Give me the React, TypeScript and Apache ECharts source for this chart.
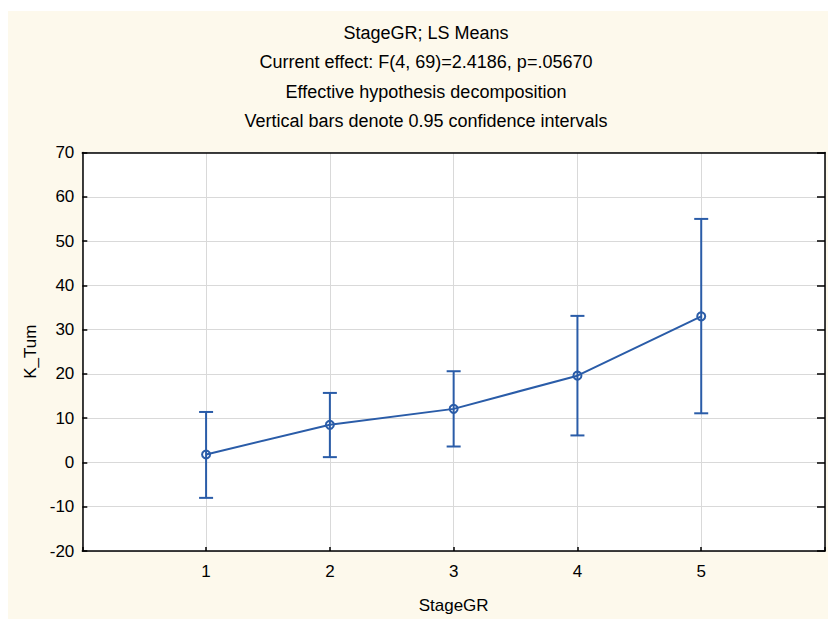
import React, { useEffect, useRef } from 'react';
import * as echarts from 'echarts';

const stages = [1, 2, 3, 4, 5];
const means = [1.8, 8.5, 12.1, 19.6, 33.0];
const lower = [-8.0, 1.2, 3.6, 6.1, 11.1];
const upper = [11.4, 15.7, 20.6, 33.1, 55.0];
const titleLines = [
  'StageGR; LS Means',
  'Current effect: F(4, 69)=2.4186, p=.05670',
  'Effective hypothesis decomposition',
  'Vertical bars denote 0.95 confidence intervals',
];
const yMin = -20;
const yMax = 70;
const yStep = 10;
const xMin = 0;
const xMax = 6;

const BLUE = '#2a5ca8';
const FONT = '"Liberation Sans", Arial, sans-serif';

export default function App() {
  const ref = useRef<HTMLDivElement>(null);
  useEffect(() => {
    if (!ref.current) return;
    const chart = echarts.init(ref.current, null, { renderer: 'svg' });
    const errData = stages.map((s, i) => [s, lower[i], upper[i]]);
    const lineData = stages.map((s, i) => [s, means[i]]);
    const titleY = [21.5, 51, 80.5, 110];
    chart.setOption({
      animation: false,
      textStyle: { fontFamily: FONT },
      graphic: titleLines.map((t, i) => ({
        type: 'text',
        x: 418,
        y: titleY[i],
        style: {
          text: t,
          fill: '#000',
          font: `18px ${FONT}`,
          textAlign: 'center',
          textVerticalAlign: 'middle',
        },
      })),
      grid: {
        left: 74.3,
        top: 141.5,
        right: -1,
        bottom: 66,
        show: true,
        backgroundColor: '#ffffff',
        borderWidth: 0,
      },
      xAxis: [
        {
          type: 'value',
          min: xMin,
          max: xMax,
          interval: 1,
          name: 'StageGR',
          nameLocation: 'middle',
          nameGap: 46,
          nameTextStyle: { color: '#000', fontSize: 17, fontFamily: FONT },
          axisLine: { show: true, onZero: false, lineStyle: { color: '#000', width: 1.5 } },
          axisTick: { show: true, inside: true, length: 4, lineStyle: { color: '#000', width: 1.5 } },
          axisLabel: {
            color: '#000',
            fontSize: 17,
            margin: 12,
            fontFamily: FONT,
            formatter: (v: number) => (v > xMin && v < xMax ? String(v) : ''),
          },
          splitLine: { show: true, lineStyle: { color: '#d9d9d9', width: 1 } },
        },
        {
          type: 'value',
          position: 'top',
          min: xMin,
          max: xMax,
          interval: 1,
          axisLine: { show: true, onZero: false, lineStyle: { color: '#000', width: 1.5 } },
          axisTick: { show: false },
          axisLabel: { show: false },
          splitLine: { show: false },
        },
      ],
      yAxis: [
        {
          type: 'value',
          min: yMin,
          max: yMax,
          interval: yStep,
          name: 'K_Tum',
          nameLocation: 'middle',
          nameGap: 43,
          nameTextStyle: { color: '#000', fontSize: 17, fontFamily: FONT },
          axisLine: { show: true, onZero: false, lineStyle: { color: '#000', width: 1.5 } },
          axisTick: { show: true, inside: true, length: 5, lineStyle: { color: '#000', width: 1.5 } },
          axisLabel: { color: '#000', fontSize: 17, margin: 8, fontFamily: FONT },
          splitLine: { show: true, lineStyle: { color: '#d9d9d9', width: 1 } },
        },
        {
          type: 'value',
          position: 'right',
          min: yMin,
          max: yMax,
          interval: yStep,
          axisLine: { show: true, onZero: false, lineStyle: { color: '#000', width: 1.5 } },
          axisTick: { show: true, inside: true, length: 8, lineStyle: { color: '#000', width: 1.5 } },
          axisLabel: { show: false },
          splitLine: { show: false },
        },
      ],
      series: [
        {
          type: 'custom',
          xAxisIndex: 0,
          yAxisIndex: 0,
          data: errData,
          z: 3,
          renderItem: (params: any, api: any) => {
            const x = api.value(0);
            const lo = api.coord([x, api.value(1)]);
            const hi = api.coord([x, api.value(2)]);
            const half = 7;
            const style = { stroke: BLUE, lineWidth: 2 };
            return {
              type: 'group',
              children: [
                { type: 'line', shape: { x1: lo[0], y1: lo[1], x2: hi[0], y2: hi[1] }, style },
                { type: 'line', shape: { x1: hi[0] - half, y1: hi[1], x2: hi[0] + half, y2: hi[1] }, style },
                { type: 'line', shape: { x1: lo[0] - half, y1: lo[1], x2: lo[0] + half, y2: lo[1] }, style },
              ],
            };
          },
        },
        {
          type: 'line',
          xAxisIndex: 0,
          yAxisIndex: 0,
          data: lineData,
          z: 4,
          symbol: 'circle',
          symbolSize: 8,
          lineStyle: { color: BLUE, width: 2 },
          itemStyle: { color: 'rgba(0,0,0,0)', borderColor: BLUE, borderWidth: 2 },
        },
      ],
    });
    return () => chart.dispose();
  }, []);
  return (
    <div
      ref={ref}
      style={{
        position: 'fixed',
        left: 8,
        top: 11,
        width: 820,
        height: 608,
        background: '#fdf9ec',
      }}
    />
  );
}
